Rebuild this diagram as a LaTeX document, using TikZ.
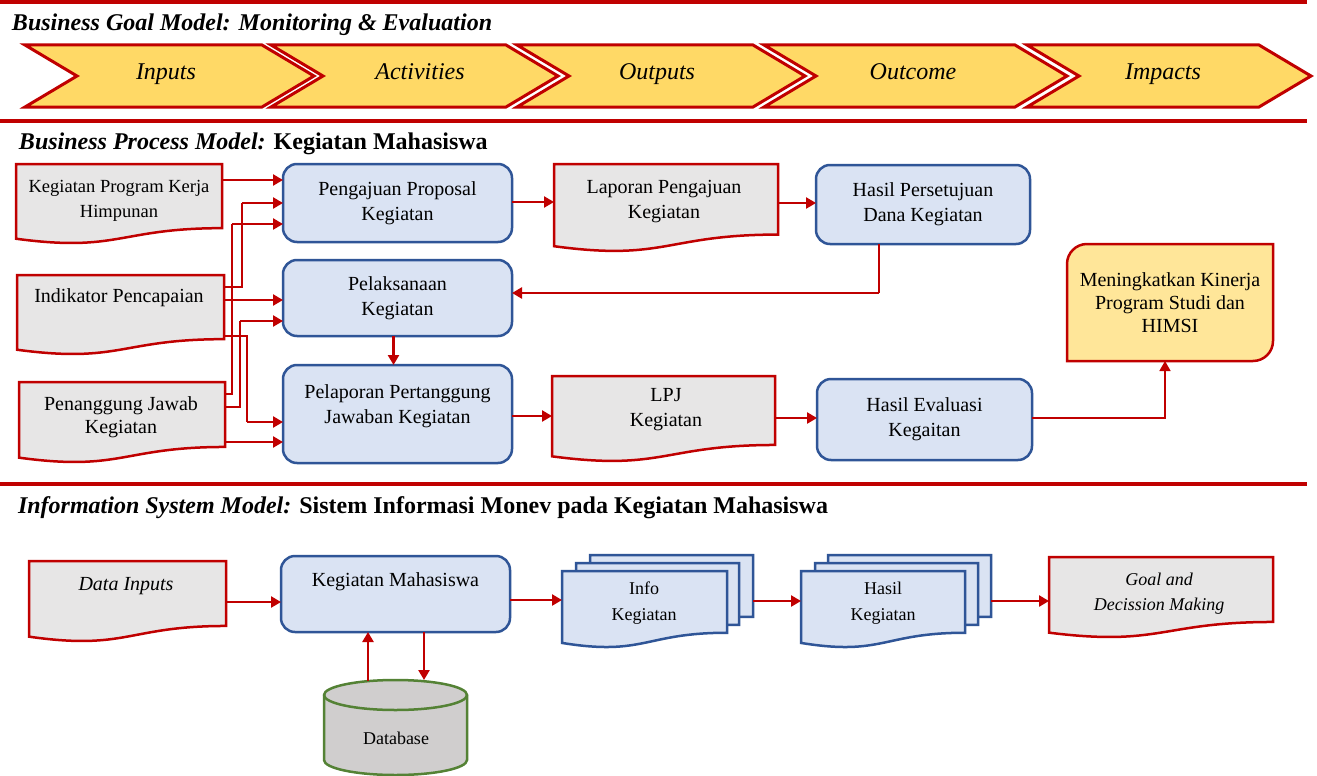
\documentclass[tikz,border=0pt]{standalone}
\usepackage{fontspec}
\setmainfont{Liberation Serif}
\usetikzlibrary{arrows.meta,calc}

\definecolor{mred}{HTML}{C00000}
\definecolor{docgray}{HTML}{E7E6E6}
\definecolor{boxblue}{HTML}{DAE3F3}
\definecolor{edgeblue}{HTML}{2F5597}
\definecolor{chevgold}{HTML}{FFD966}
\definecolor{lightgold}{HTML}{FFE699}
\definecolor{dbgray}{HTML}{D0CECE}
\definecolor{dbgreen}{HTML}{548235}

\pgfdeclarelayer{paper}
\pgfdeclarelayer{frames}
\pgfsetlayers{paper,frames,main}

% flowchart "document" outline fitted to the rectangle of a node
\newcommand\docframe[2]{%
  \path[#1] let \p1=(#2.north west), \p2=(#2.south east), \n1={\y2-\y1} in
    (\p1) -- (\x2,\y1) -- (\x2,{\y1+0.802*(\n1)})
    .. controls ({0.5*(\x1+\x2)},{\y1+0.802*(\n1)}) and ({0.5*(\x1+\x2)},{\y1+1.1075*(\n1)}) ..
    (\x1,{\y1+0.934*(\n1)}) -- cycle;}

% chevron of the goal band: left edge, top-right corner
\newcommand\chevronpath[2]{%
  \path[chev] (#1,45) -- (#2,45) -- (#2+52,76) -- (#2,107) -- (#1,107) -- (#1+52,76) -- cycle;}

\begin{document}
\begin{tikzpicture}[x=1pt,y=-1pt,
  every node/.style={inner sep=0pt, outer sep=0pt, align=center, font=\fontsize{20}{25}\selectfont},
  title/.style={font=\fontsize{24}{28}\selectfont\bfseries, anchor=base west},
  chevtxt/.style={font=\fontsize{24}{28}\selectfont\itshape, anchor=base},
  smalltxt/.style={font=\fontsize{18}{26}\selectfont},
  holder/.style={draw=none, fill=none, rectangle},
  chev/.style={fill=chevgold, draw=mred, line width=3pt},
  docshape/.style={fill=docgray, draw=mred, line width=2.5pt},
  pageshape/.style={fill=boxblue, draw=edgeblue, line width=2.5pt},
  procbox/.style={rectangle, rounded corners=14pt, fill=boxblue, draw=edgeblue, line width=2.5pt},
  goalshape/.style={fill=lightgold, draw=mred, line width=2.5pt},
  dbshape/.style={fill=dbgray, draw=dbgreen, line width=2.5pt},
  rule/.style={draw=mred, line width=4pt},
  arr/.style={draw=mred, line width=2.8pt, -{Triangle[length=10pt,width=11pt]}},
  link/.style={draw=mred, line width=1.5pt},
  linkarr/.style={link, -{Triangle[length=10pt,width=11pt]}}]

\begin{pgfonlayer}{paper}
  \fill[white] (0,0) rectangle (1317,776);
\end{pgfonlayer}
\useasboundingbox (0,0) rectangle (1317,776);

% section rules
\draw[rule] (0,2) -- (1307,2);
\draw[rule] (0,120.5) -- (1307,120.5);
\draw[rule] (0,484) -- (1307,484);

% ---------------- goal band ----------------
\node[title] (t1) at (12,31) {\itshape Business Goal Model: Monitoring \& Evaluation};
\chevronpath{25}{262}
\chevronpath{271}{506}
\chevronpath{517}{753}
\chevronpath{764}{1015}
\chevronpath{1027}{1259}
\node[chevtxt] (c1) at (166,79) {Inputs};
\node[chevtxt] (c2) at (420,79) {Activities};
\node[chevtxt] (c3) at (657,79) {Outputs};
\node[chevtxt] (c4) at (913,79) {Outcome};
\node[chevtxt] (c5) at (1163,79) {Impacts};

% ---------------- process model ----------------
\node[title] (t2) at (19,149) {\textit{Business Process Model:} Kegiatan Mahasiswa};

\node[holder, minimum width=206, minimum height=80] (d1) at (119,204) {};
\node[font=\fontsize{18.5}{25}\selectfont] (d1t) at (119,200.5) {Kegiatan Program Kerja\\Himpunan};
\node[holder, minimum width=207, minimum height=80] (ind) at (120.5,315) {};
\node (indt) at (119,298) {Indikator Pencapaian};
\node[holder, minimum width=206, minimum height=81] (pj) at (122,422.5) {};
\node[font=\fontsize{20}{23}\selectfont] (pjt) at (121,417) {Penanggung Jawab\\Kegiatan};

\node[procbox, minimum width=229, minimum height=78] (pp) at (397.5,203) {Pengajuan Proposal\\Kegiatan};
\node[procbox, minimum width=229, minimum height=76] (pl) at (397.5,298) {Pelaksanaan\\Kegiatan};
\node[procbox, minimum width=229, minimum height=98] (pr) at (397.5,414) {};
\node (prt) at (397.5,406) {Pelaporan Pertanggung\\Jawaban Kegiatan};

\node[holder, minimum width=224, minimum height=88] (lap) at (666,208) {};
\node (lapt) at (664,202) {Laporan Pengajuan\\Kegiatan};
\node[holder, minimum width=223, minimum height=86] (lpj) at (663.5,419) {};
\node (lpjt) at (666,410) {LPJ\\Kegiatan};

\node[procbox, minimum width=214, minimum height=79] (hp) at (923,204.5) {Hasil Persetujuan\\Dana Kegiatan};
\node[procbox, minimum width=215, minimum height=81] (he) at (924.5,419.5) {Hasil Evaluasi\\Kegaitan};

\node[holder, minimum width=206, minimum height=117, font=\fontsize{20}{23}\selectfont] (mk) at (1170,302.5) {Meningkatkan Kinerja\\Program Studi dan\\HIMSI};

% ---------------- information system model ----------------
\node[title] (t3) at (18,513) {\textit{Information System Model:} Sistem Informasi Monev pada Kegiatan Mahasiswa};

\node[holder, minimum width=197, minimum height=81] (din) at (127.5,601.5) {};
\node[font=\fontsize{20}{25}\selectfont\itshape] (dint) at (126,586) {Data Inputs};
\node[procbox, minimum width=229, minimum height=76] (km) at (395.5,594) {};
\node (kmt) at (395.5,582) {Kegiatan Mahasiswa};
\node[holder, minimum width=143, minimum height=95] (db) at (395.5,727.5) {};

\node[holder, minimum width=163, minimum height=77] (if3) at (671.5,593.5) {};
\node[holder, minimum width=163, minimum height=77] (if2) at (657.5,601.5) {};
\node[holder, minimum width=165, minimum height=77] (if1) at (644.5,609.5) {};
\node[holder, minimum width=163, minimum height=77] (hk3) at (909.5,593.5) {};
\node[holder, minimum width=163, minimum height=77] (hk2) at (896.5,601.5) {};
\node[holder, minimum width=164, minimum height=77] (hk1) at (883,609.5) {};
\node[holder, minimum width=224, minimum height=81] (gdm) at (1161,597.5) {};

\node[smalltxt] (ift) at (644,603.5) {Info\\Kegiatan};
\node[smalltxt] (hkt) at (883,603.5) {Hasil\\Kegiatan};
\node[smalltxt, font=\fontsize{18}{25}\selectfont\itshape] (gdmt) at (1159,593.5) {Goal and\\Decission Making};
\node[smalltxt] (dbt) at (396,738) {Database};

% outlines behind the texts
\begin{pgfonlayer}{frames}
  \docframe{docshape}{d1}
  \docframe{docshape}{ind}
  \docframe{docshape}{pj}
  \docframe{docshape}{lap}
  \docframe{docshape}{lpj}
  \docframe{docshape}{din}
  \docframe{docshape}{gdm}
  \docframe{pageshape}{if3}
  \docframe{pageshape}{if2}
  \docframe{pageshape}{if1}
  \docframe{pageshape}{hk3}
  \docframe{pageshape}{hk2}
  \docframe{pageshape}{hk1}
  \path[goalshape] ($(mk.north west)+(0,20)$) arc[start angle=180,end angle=90,radius=20pt]
    -- (mk.north east) -- ($(mk.south east)+(0,-20)$) arc[start angle=0,end angle=-90,radius=20pt]
    -- (mk.south west) -- cycle;
  \path[dbshape] ($(db.north west)+(0,15)$) -- ($(db.south west)+(0,-15)$)
    arc[start angle=180,end angle=360,x radius=71.5pt,y radius=15pt]
    -- ($(db.north east)+(0,15)$)
    arc[start angle=0,end angle=180,x radius=71.5pt,y radius=15pt] -- cycle;
  \draw[dbgreen, line width=2.5pt] ($(db.north west)+(0,15)$)
    arc[start angle=180,end angle=360,x radius=71.5pt,y radius=15pt];
\end{pgfonlayer}

% ---------------- connectors: process model ----------------
\draw[arr] ($(d1.north east)+(0,16)$) -- ($(pp.north west)+(0,16)$);
\draw[link] ($(ind.north east)+(0,12)$) -| ($(pp.west)+(-41,0)$);
\draw[arr] ($(pp.west)+(-41,0)$) -- (pp.west);
\draw[link] ($(pj.north east)+(0,12)$) -| ($(pp.west)+(-51,21)$);
\draw[arr] ($(pp.west)+(-51,21)$) -- ($(pp.west)+(0,21)$);
\draw[arr] ($(ind.north east)+(0,25)$) -- ($(pl.north west)+(0,40)$);
\draw[link] ($(pj.north east)+(0,25)$) -| ($(pl.north west)+(-43,61)$);
\draw[arr] ($(pl.north west)+(-43,61)$) -- ($(pl.north west)+(0,61)$);
\draw[link] ($(ind.north east)+(0,61)$) -| ($(pr.north west)+(-36,57)$);
\draw[arr] ($(pr.north west)+(-36,57)$) -- ($(pr.north west)+(0,57)$);
\draw[arr] ($(pj.north east)+(0,60)$) -- ($(pr.north west)+(0,77)$);
\draw[arr] ($(pl.south)+(-4,0)$) -- ($(pr.north)+(-4,0)$);
\draw[arr] ($(pp.north east)+(0,38)$) -- ($(lap.north west)+(0,38)$);
\draw[arr] ($(lap.north east)+(0,39)$) -- ($(hp.north west)+(0,38)$);
\draw[link] ($(hp.south west)+(63,0)$) -- ($(hp.south west)+(63,49)$);
\draw[arr] ($(hp.south west)+(63,49)$) -- ($(pl.north east)+(0,33)$);
\draw[arr] ($(pr.north east)+(0,51)$) -- ($(lpj.north west)+(0,40)$);
\draw[arr] ($(lpj.north east)+(0,42)$) -- ($(he.north west)+(0,39)$);
\draw[linkarr] ($(he.north east)+(0,39)$) -| ($(mk.south)+(-5,0)$);

% ---------------- connectors: information system ----------------
\draw[arr] ($(din.north east)+(0,41)$) -- ($(km.north west)+(0,46)$);
\draw[arr] ($(db.north)+(-27.5,1)$) -- ($(km.south)+(-27.5,0)$);
\draw[arr] ($(km.south)+(28.5,0)$) -- ($(db.north)+(28.5,0)$);
\draw[arr] ($(km.north east)+(0,44)$) -- ($(if1.north west)+(0,29)$);
\draw[arr] ($(if3.north east)+(0,46)$) -- ($(hk1.north west)+(0,30)$);
\draw[arr] ($(hk3.north east)+(0,46)$) -- ($(gdm.north west)+(0,44)$);
\end{tikzpicture}
\end{document}
